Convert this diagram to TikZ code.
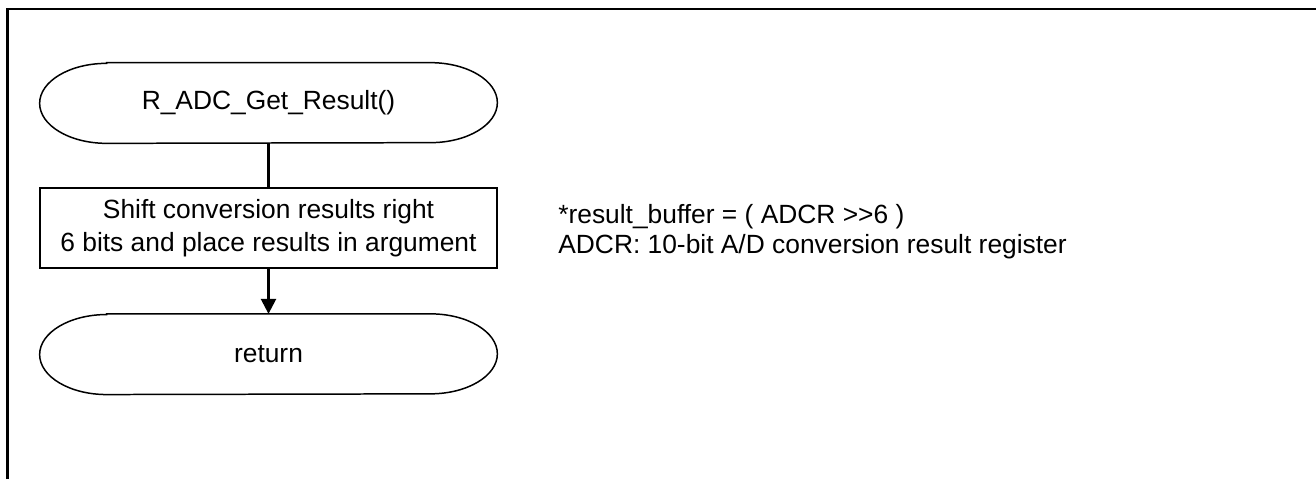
\documentclass[tikz,border=0pt]{standalone}
\usepackage{fontspec}
\setmainfont{Liberation Sans}
\usepackage{tikz}
\usetikzlibrary{arrows.meta,positioning,calc}

\begin{document}
\begin{tikzpicture}[
  node distance=0.88cm,
  every node/.style={font=\fontsize{15}{19}\selectfont},
  termbox/.style={minimum width=9.14cm, minimum height=1.6cm, inner sep=0pt},
  procbox/.style={draw, line width=0.85pt, minimum width=9.14cm,
    minimum height=1.6cm, align=center, inner sep=0pt},
  shapeline/.style={line width=0.85pt},
  flow/.style={line width=1.4pt},
  flowarrow/.style={flow, -{Triangle[width=8.5pt,length=8.5pt]}},
]
\useasboundingbox (0,0) rectangle (26.32,-9.58);

% page frame (only left and top edges show)
\draw[line width=1.7pt] (0.15,-9.58) -- (0.15,-0.18) -- (26.32,-0.18);

\node[termbox] (start) at (5.37,-2.06) {R\_ADC\_Get\_Result()};
\node[procbox, below=of start] (shift)
  {Shift conversion results right \\ 6 bits and place results in argument};
\node[termbox, below=0.9cm of shift] (ret) {return};

% terminal outlines with elliptic ends
\foreach \t in {start,ret}
  \draw[shapeline] ($(\t.north west)+(1.34,0)$) -- ($(\t.north east)+(-1.34,0)$)
    arc[start angle=90, end angle=-90, x radius=1.34cm, y radius=0.8cm]
    -- ($(\t.south west)+(1.34,0)$)
    arc[start angle=270, end angle=90, x radius=1.34cm, y radius=0.8cm] -- cycle;

\draw[flow] (start) -- (shift);
\draw[flowarrow] (shift) -- (ret);

\node[anchor=base west, align=left, inner sep=0pt,
      font=\fontsize{15}{17}\selectfont] (note) at (11.16,-5.06)
  {*result\_buffer = ( ADCR \textgreater{}\textgreater{}6 ) \\ ADCR: 10-bit A/D conversion result register};
\end{tikzpicture}
\end{document}
